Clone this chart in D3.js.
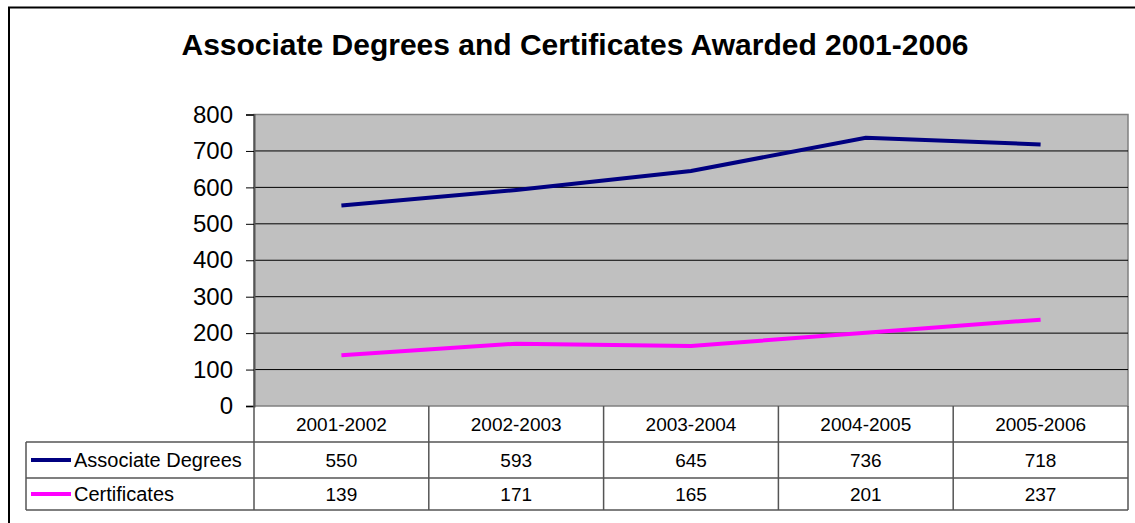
<!DOCTYPE html>
<meta charset="utf-8">
<style>
body { margin: 0; background: #fff; }
text { font-family: "Liberation Sans", Arial, sans-serif; fill: #000; }
</style>
<svg width="1135" height="523"></svg>
<script src="https://d3js.org/d3.v7.min.js"></script>
<script>

var years = ["2001-2002", "2002-2003", "2003-2004", "2004-2005", "2005-2006"];
var associate = [550, 593, 645, 736, 718];
var certificates = [139, 171, 165, 201, 237];
var seriesNames = ["Associate Degrees", "Certificates"];
var seriesColors = ["#000080", "#ff00ff"];
var yTicks = [0, 100, 200, 300, 400, 500, 600, 700, 800];

var svg = d3.select("svg");

var plotLeft = 254, plotRight = 1128, plotTop = 114.5, plotBottom = 406;
var rowH = 36; // table rows

// outer frame
svg.append("rect")
    .attr("x", 9).attr("y", 7.5).attr("width", 1140).attr("height", 525)
    .attr("fill", "none").attr("stroke", "#000").attr("stroke-width", 2);

svg.append("text")
    .attr("x", 575).attr("y", 55)
    .attr("text-anchor", "middle")
    .style("font-size", "30px").style("font-weight", "bold")
    .text("Associate Degrees and Certificates Awarded 2001-2006");

var x = d3.scaleBand().domain(years).range([plotLeft, plotRight]);
var y = d3.scaleLinear().domain([0, 800]).range([plotBottom, plotTop]);

// plot area
svg.append("rect")
    .attr("x", plotLeft).attr("y", plotTop)
    .attr("width", plotRight - plotLeft).attr("height", plotBottom - plotTop)
    .attr("fill", "#c0c0c0").attr("stroke", "#808080").attr("stroke-width", 1.5);

svg.append("g")
  .selectAll("line")
  .data(yTicks.slice(1, -1))
  .enter().append("line")
    .attr("x1", plotLeft).attr("x2", plotRight)
    .attr("y1", d => y(d)).attr("y2", d => y(d))
    .attr("stroke", "#000").attr("stroke-width", 1);

var yAxis = svg.append("g")
    .attr("transform", "translate(" + plotLeft + ",0)")
    .call(d3.axisLeft(y).tickValues(yTicks).tickSize(8).tickPadding(13));
yAxis.select(".domain").attr("stroke", "#555").attr("stroke-width", 2);
yAxis.selectAll("line").attr("stroke", "#000");
yAxis.selectAll("text")
    .style("font-size", "24px")
    .style("font-family", "Liberation Sans, Arial, sans-serif")
    .attr("fill", "#000");

// lines
var series = [associate, certificates];
var line = d3.line()
    .x((d, i) => x(years[i]) + x.bandwidth() / 2)
    .y(d => y(d));

svg.append("g")
  .selectAll("path")
  .data(series)
  .enter().append("path")
    .attr("d", line)
    .attr("fill", "none")
    .attr("stroke", (d, i) => seriesColors[i])
    .attr("stroke-width", 4);

// data table
var tableLeft = 26;
var t = svg.append("g");

t.selectAll(".hdr")
  .data(years)
  .enter().append("text")
    .attr("x", d => x(d) + x.bandwidth() / 2)
    .attr("y", plotBottom + rowH / 2 + 7)
    .attr("text-anchor", "middle")
    .style("font-size", "19px")
    .text(d => d);

// horizontal rules
var hy = [plotBottom + rowH, plotBottom + rowH * 2, plotBottom + rowH * 3 - 4];
t.selectAll(".hr")
  .data(hy)
  .enter().append("line")
    .attr("x1", tableLeft).attr("x2", plotRight)
    .attr("y1", d => d).attr("y2", d => d)
    .attr("stroke", "#555").attr("stroke-width", 1.5);

// vertical rules
var vx = [plotLeft].concat(years.map(d => x(d) + x.bandwidth()));
t.selectAll(".vr")
  .data(vx)
  .enter().append("line")
    .attr("x1", d => d).attr("x2", d => d)
    .attr("y1", plotBottom).attr("y2", hy[2])
    .attr("stroke", "#555").attr("stroke-width", 1.5);

t.append("line")
    .attr("x1", tableLeft).attr("x2", tableLeft)
    .attr("y1", hy[0]).attr("y2", hy[2])
    .attr("stroke", "#555").attr("stroke-width", 1.5);

// rows
series.forEach(function (vals, si) {
  var cy = (hy[si] + hy[si + 1]) / 2;
  t.append("line")
      .attr("x1", 31).attr("x2", 71)
      .attr("y1", cy).attr("y2", cy)
      .attr("stroke", seriesColors[si]).attr("stroke-width", 4);
  t.append("text")
      .attr("x", 74).attr("y", cy + 7)
      .style("font-size", "20px")
      .text(seriesNames[si]);
  t.selectAll(".v" + si)
    .data(vals)
    .enter().append("text")
      .attr("x", (d, i) => x(years[i]) + x.bandwidth() / 2)
      .attr("y", cy + 7)
      .attr("text-anchor", "middle")
      .style("font-size", "19px")
      .text(d => d);
});

</script>
